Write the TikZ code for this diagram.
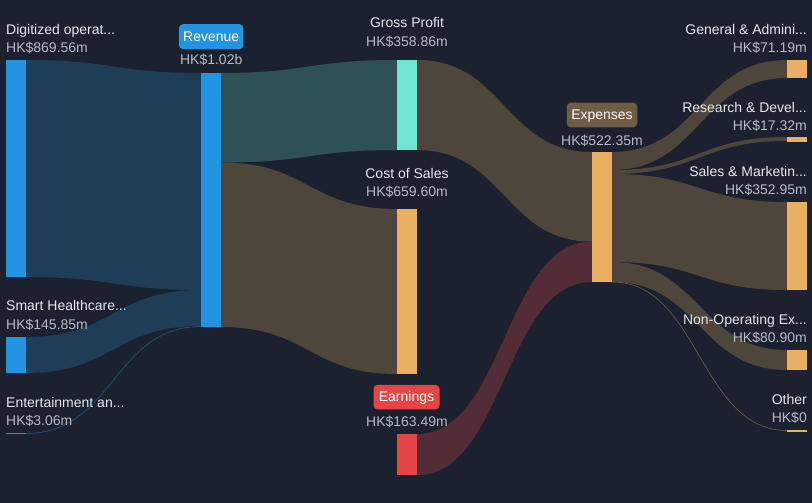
\documentclass[tikz,border=0pt]{standalone}
\usepackage{fontspec}
\setmainfont{Liberation Sans}
\definecolor{bg}{HTML}{1C2130}
\definecolor{nblue}{HTML}{2394E0}
\definecolor{fblue}{HTML}{1E3D57}
\definecolor{nteal}{HTML}{6EE6D2}
\definecolor{fteal}{HTML}{2E5155}
\definecolor{norange}{HTML}{E8B060}
\definecolor{fbrown}{HTML}{4E463B}
\definecolor{nred}{HTML}{E64545}
\definecolor{fred}{HTML}{532C35}
\definecolor{boxexp}{HTML}{6E5C44}
\definecolor{tname}{HTML}{E6E7EB}
\definecolor{tval}{HTML}{B6BAC2}
\newcommand{\sband}[7]{%
  \fill[#7] (#1,#2) .. controls ({(#1+#4)/2},#2) and ({(#1+#4)/2},#5) .. (#4,#5)
    -- (#4,#6) .. controls ({(#1+#4)/2},#6) and ({(#1+#4)/2},#3) .. (#1,#3) -- cycle;}
\newcommand{\sline}[6]{%
  \draw[#5, line width=#6] (#1,#2) .. controls ({(#1+#3)/2},#2) and ({(#1+#3)/2},#4) .. (#3,#4);}
\begin{document}
\begin{tikzpicture}[x=1pt,y=-1pt,
  bar/.style={inner sep=0pt, outer sep=0pt, minimum width=20pt, anchor=north west, rectangle},
  nm/.style={font=\fontsize{14}{16}\selectfont, text=tname, inner sep=0pt},
  vl/.style={font=\fontsize{14}{16}\selectfont, text=tval, inner sep=0pt},
  lbox/.style={font=\fontsize{14}{16}\selectfont, text=white, rounded corners=4pt, inner sep=0pt}]
\fill[bg] (0,0) rectangle (812,503);
\useasboundingbox (0,0) rectangle (812,503);
% flows
\sband{26}{60}{277}{201}{73}{290}{fblue}
\sband{26}{337}{373}{201}{290}{326}{fblue}
\sline{26}{433.5}{201}{326.5}{fblue!80!nblue}{0.8pt}
\sband{221}{73}{162.6}{397}{60}{150}{fteal}
\sband{221}{162.6}{327}{397}{209}{374}{fbrown}
\sband{417}{60}{150}{592}{152}{241.6}{fbrown}
\sband{417}{434}{475}{592}{241.6}{282}{fred}
\sband{612}{152}{170}{787}{60}{78}{fbrown}
\sband{612}{170}{174}{787}{137}{141}{fbrown}
\sband{612}{174}{262}{787}{202}{290}{fbrown}
\sband{612}{262}{282}{787}{350}{370}{fbrown}
\sline{612}{282}{787}{430.5}{fbrown!75!norange}{0.6pt}
% nodes
\node[bar, fill=nblue, minimum height=217pt] (dig) at (6,60) {};
\node[bar, fill=nblue, minimum height=36pt] (smart) at (6,337) {};
\node[bar, fill=nblue, minimum height=1.2pt] (ent) at (6,433) {};
\node[bar, fill=nblue, minimum height=254pt] (rev) at (201,73) {};
\node[bar, fill=nteal, minimum height=90pt] (gp) at (397,60) {};
\node[bar, fill=norange, minimum height=165pt] (cos) at (397,209) {};
\node[bar, fill=nred, minimum height=41pt] (earn) at (397,434) {};
\node[bar, fill=norange, minimum height=130pt] (exp) at (592,152) {};
\node[bar, fill=norange, minimum height=18pt] (ga) at (787,60) {};
\node[bar, fill=norange, minimum height=4.5pt] (rd) at (787,137) {};
\node[bar, fill=norange, minimum height=88pt] (sm) at (787,202) {};
\node[bar, fill=norange, minimum height=20pt] (nop) at (787,350) {};
\node[bar, fill=norange, minimum height=1.5pt] (oth) at (787,430) {};
% left labels
\node[nm, anchor=base west] (digN) at (6,34.5) {Digitized operat...};
\node[vl, anchor=base west] (digV) at (6,53) {HK\$869.56m};
\node[nm, anchor=base west] (smN) at (6,310.7) {Smart Healthcare...};
\node[vl, anchor=base west] (smV) at (6,329.3) {HK\$145.85m};
\node[nm, anchor=base west] (entN) at (6,407.3) {Entertainment an...};
\node[vl, anchor=base west] (entV) at (6,425.7) {HK\$3.06m};
% revenue
\node[lbox, fill=nblue, minimum width=64.5pt, minimum height=25pt] (revB) at (211.2,36.7) {};
\node[lbox, anchor=base] (revN) at (211.2,41.7) {Revenue};
\node[vl, anchor=base] (revV) at (211.2,65) {HK\$1.02b};
% middle
\node[nm, anchor=base] (gpN) at (407,28) {Gross Profit};
\node[vl, anchor=base] (gpV) at (407,46.7) {HK\$358.86m};
\node[nm, anchor=base] (cosN) at (407,178.3) {Cost of Sales};
\node[vl, anchor=base] (cosV) at (407,196.7) {HK\$659.60m};
\node[lbox, fill=nred, minimum width=66pt, minimum height=24.5pt] (earnB) at (406.5,397.2) {};
\node[lbox, anchor=base] (earnN) at (406.5,401.7) {Earnings};
\node[vl, anchor=base] (earnV) at (407,426.7) {HK\$163.49m};
% expenses
\node[lbox, fill=boxexp, minimum width=70.5pt, minimum height=24.5pt] (expB) at (602,115) {};
\node[lbox, anchor=base] (expN) at (602,120) {Expenses};
\node[vl, anchor=base] (expV) at (602,145) {HK\$522.35m};
% right labels
\node[nm, anchor=base east] (gaN) at (807,34.3) {General \& Admini...};
\node[vl, anchor=base east] (gaV) at (807,52.7) {HK\$71.19m};
\node[nm, anchor=base east] (rdN) at (807,112.7) {Research \& Devel...};
\node[vl, anchor=base east] (rdV) at (807,130.5) {HK\$17.32m};
\node[nm, anchor=base east] (smkN) at (807,176) {Sales \& Marketin...};
\node[vl, anchor=base east] (smkV) at (807,194.3) {HK\$352.95m};
\node[nm, anchor=base east] (nopN) at (807,324) {Non-Operating Ex...};
\node[vl, anchor=base east] (nopV) at (807,342.7) {HK\$80.90m};
\node[nm, anchor=base east] (othN) at (807,404) {Other};
\node[vl, anchor=base east] (othV) at (807,422.7) {HK\$0};
\end{tikzpicture}
\end{document}
